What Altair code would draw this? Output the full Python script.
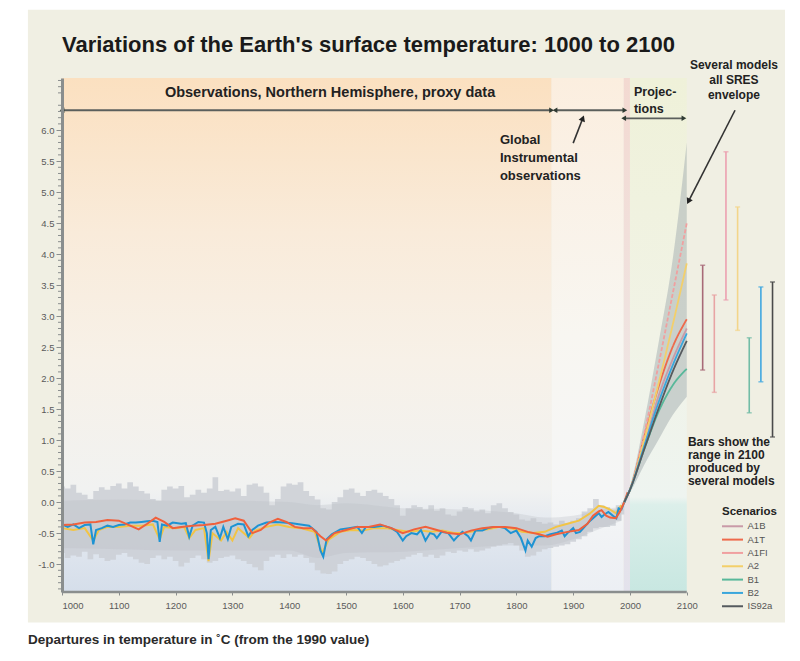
import altair as alt
import pandas as pd

# ---------------------------------------------------------------------------
# Scales: the horizontal range runs past 2100 so the 2100 range bars and the
# scenario key sit to the right of the axis end.
# ---------------------------------------------------------------------------
X_DOM = [1000, 2280]
Y_DOM = [-1.45, 6.84]
PLOT_W, PLOT_H = 727, 514
FONT = "Liberation Sans"

# ---------------------------------------------------------------------------
# Northern Hemisphere proxy reconstruction: uncertainty envelope (decadal)
# ---------------------------------------------------------------------------
env_years = list(range(1000, 1991, 10))
env_hi = [0.25, 0.22, 0.28, 0.15, 0.12, 0.05, 0.18, 0.24, 0.20, 0.26,
          0.30, 0.22, 0.32, 0.25, 0.18, 0.14, 0.05, 0.02, 0.20, 0.25,
          0.22, 0.26, 0.08, 0.12, 0.20, 0.15, 0.22, 0.40, 0.18, 0.20,
          0.17, 0.22, 0.10, 0.28, 0.30, 0.25, 0.15, -0.05, 0.05, 0.25,
          0.30, 0.28, 0.32, 0.18, 0.10, 0.04, -0.10, -0.12, 0.00, 0.08,
          0.20, 0.22, 0.15, 0.10, 0.18, 0.20, 0.15, 0.10, 0.05, -0.05,
          -0.22, -0.10, -0.05, -0.08, -0.12, -0.05, -0.14, -0.10, -0.20, -0.22,
          -0.15, -0.08, -0.10, -0.15, -0.12, -0.18, -0.05, -0.02, -0.10, -0.16,
          -0.20, -0.28, -0.30, -0.26, -0.32, -0.35, -0.33, -0.36, -0.30, -0.34,
          -0.30, -0.26, -0.15, -0.10, 0.05, -0.05, -0.08, -0.12, -0.05, 0.00]
env_lo = [-0.82, -0.90, -0.86, -0.88, -0.80, -0.92, -0.84, -0.90, -0.95, -0.93,
          -0.85, -0.82, -0.88, -0.92, -0.98, -1.00, -0.90, -0.86, -0.92, -0.88,
          -0.95, -1.04, -0.98, -0.90, -0.86, -0.92, -0.98, -0.95, -0.90, -0.88,
          -0.86, -0.92, -0.95, -1.00, -1.05, -1.10, -0.95, -0.88, -0.85, -0.90,
          -0.84, -0.88, -0.85, -0.90, -0.98, -1.10, -1.15, -1.16, -1.12, -1.00,
          -0.95, -0.92, -0.88, -0.90, -0.95, -1.00, -1.04, -1.02, -0.98, -0.95,
          -0.92, -0.88, -0.85, -0.82, -0.88, -0.85, -0.90, -0.86, -0.80, -0.82,
          -0.78, -0.80, -0.76, -0.80, -0.78, -0.75, -0.72, -0.70, -0.68, -0.66,
          -0.70, -0.78, -0.88, -0.86, -0.80, -0.76, -0.74, -0.72, -0.70, -0.68,
          -0.64, -0.60, -0.55, -0.48, -0.42, -0.40, -0.40, -0.38, -0.30, -0.20]

core_years = [1000, 1100, 1200, 1300, 1400, 1450, 1500, 1600, 1700, 1800, 1850, 1900, 1950, 1985]
core_hi = [0.02, 0.04, 0.02, 0.02, 0.00, -0.05, -0.02, -0.10, -0.12, -0.18, -0.25, -0.22, -0.12, -0.08]
core_lo = [-0.74, -0.76, -0.78, -0.78, -0.78, -0.90, -0.82, -0.80, -0.74, -0.70, -0.70, -0.60, -0.42, -0.30]

# ---------------------------------------------------------------------------
# Reconstructed / observed temperature series
# ---------------------------------------------------------------------------
blue_years = [1000, 1010, 1020, 1030, 1040, 1050, 1055, 1060, 1070, 1080, 1090,
              1100, 1110, 1120, 1130, 1140, 1150, 1160, 1168, 1172, 1176, 1185,
              1195, 1210, 1218, 1224, 1230, 1240, 1250, 1255, 1258, 1262, 1270,
              1278, 1284, 1292, 1298, 1310, 1320, 1328, 1335, 1345, 1360, 1375,
              1390, 1405, 1420, 1435, 1448, 1455, 1460, 1466, 1475, 1490, 1505,
              1520, 1528, 1535, 1550, 1565, 1580, 1590, 1600, 1606, 1615, 1625,
              1632, 1640, 1648, 1655, 1660, 1668, 1680, 1690, 1697, 1705, 1715,
              1720, 1728, 1740, 1750, 1760, 1770, 1780, 1790, 1800, 1808, 1816,
              1820, 1827, 1834, 1840, 1850, 1860, 1870, 1880, 1885, 1890, 1900,
              1905, 1912, 1920, 1930, 1940, 1945, 1950, 1955, 1962, 1970, 1976,
              1980, 1985, 1990, 1995, 2000]
blue_vals = [-0.36, -0.40, -0.36, -0.42, -0.37, -0.36, -0.68, -0.45, -0.42, -0.38, -0.40,
             -0.37, -0.36, -0.33, -0.33, -0.32, -0.31, -0.30, -0.32, -0.64, -0.36, -0.38,
             -0.33, -0.35, -0.34, -0.56, -0.38, -0.32, -0.33, -0.50, -0.92, -0.45, -0.40,
             -0.58, -0.40, -0.60, -0.40, -0.35, -0.36, -0.55, -0.45, -0.38, -0.33, -0.32,
             -0.33, -0.34, -0.36, -0.38, -0.48, -0.78, -0.88, -0.60, -0.52, -0.44, -0.42,
             -0.40, -0.50, -0.40, -0.40, -0.38, -0.42, -0.48, -0.62, -0.55, -0.50, -0.52,
             -0.45, -0.62, -0.50, -0.52, -0.58, -0.48, -0.50, -0.62, -0.55, -0.48, -0.55,
             -0.62, -0.46, -0.46, -0.42, -0.40, -0.40, -0.42, -0.50, -0.46, -0.58, -0.78,
             -0.62, -0.72, -0.58, -0.55, -0.55, -0.52, -0.50, -0.46, -0.55, -0.50, -0.42,
             -0.50, -0.48, -0.40, -0.30, -0.22, -0.18, -0.24, -0.20, -0.16, -0.22, -0.26,
             -0.10, -0.12, 0.00, 0.10, 0.20]

yellow_years = [1000, 1020, 1040, 1055, 1065, 1080, 1100, 1120, 1140, 1160, 1172,
                1180, 1200, 1215, 1224, 1235, 1250, 1258, 1265, 1280, 1290, 1300,
                1310, 1330, 1340, 1360, 1380, 1400, 1420, 1445, 1458, 1470, 1490,
                1510, 1530, 1550, 1570, 1590, 1610, 1630, 1650, 1670, 1690, 1710,
                1730, 1750, 1770, 1790, 1810, 1830, 1850, 1870, 1890, 1910, 1930,
                1945, 1955, 1965, 1975, 1985]
yellow_vals = [-0.42, -0.45, -0.42, -0.62, -0.45, -0.40, -0.40, -0.38, -0.38, -0.36, -0.60,
               -0.40, -0.42, -0.40, -0.58, -0.45, -0.42, -0.95, -0.50, -0.62, -0.48, -0.62,
               -0.42, -0.58, -0.46, -0.40, -0.36, -0.40, -0.42, -0.48, -0.82, -0.60, -0.48,
               -0.45, -0.46, -0.42, -0.42, -0.45, -0.48, -0.46, -0.48, -0.46, -0.50, -0.50,
               -0.46, -0.44, -0.40, -0.42, -0.48, -0.50, -0.48, -0.40, -0.35, -0.30, -0.18,
               -0.06, -0.08, -0.12, -0.18, -0.05]

red_years = [1000, 1020, 1040, 1060, 1080, 1100, 1120, 1135, 1150, 1165, 1180, 1195,
             1210, 1230, 1250, 1270, 1290, 1305, 1320, 1335, 1350, 1365, 1380, 1395,
             1410, 1425, 1440, 1455, 1465, 1480, 1500, 1520, 1540, 1560, 1580, 1600,
             1620, 1640, 1660, 1680, 1700, 1720, 1740, 1760, 1780, 1800, 1820, 1840,
             1855, 1870, 1890, 1910, 1925, 1935, 1945, 1950, 1958, 1965, 1975, 1982,
             1990, 1996]
red_vals = [-0.37, -0.36, -0.33, -0.32, -0.29, -0.30, -0.38, -0.44, -0.35, -0.25, -0.32, -0.42,
            -0.40, -0.38, -0.37, -0.35, -0.30, -0.26, -0.30, -0.50, -0.45, -0.33, -0.27, -0.32,
            -0.40, -0.42, -0.42, -0.55, -0.62, -0.50, -0.45, -0.40, -0.40, -0.36, -0.42, -0.50,
            -0.44, -0.40, -0.45, -0.50, -0.52, -0.46, -0.42, -0.40, -0.40, -0.42, -0.48, -0.52,
            -0.56, -0.52, -0.48, -0.45, -0.35, -0.22, -0.15, -0.13, -0.22, -0.25, -0.26, -0.16,
            0.00, 0.16]

# ---------------------------------------------------------------------------
# SRES projections, 1990-2100
# ---------------------------------------------------------------------------
proj_years = [1990, 2000, 2025, 2050, 2075, 2100]
scenarios = ["A1B", "A1T", "A1FI", "A2", "B1", "B2", "IS92a"]
proj_vals = {
    "A1B":   [0.0, 0.20, 0.90, 1.70, 2.30, 2.80],
    "A1T":   [0.0, 0.20, 1.05, 1.85, 2.50, 2.95],
    "A1FI":  [0.0, 0.20, 1.10, 2.20, 3.35, 4.50],
    "A2":    [0.0, 0.20, 1.00, 1.90, 2.85, 3.85],
    "B1":    [0.0, 0.20, 0.85, 1.45, 1.88, 2.15],
    "B2":    [0.0, 0.20, 0.90, 1.60, 2.20, 2.72],
    "IS92a": [0.0, 0.20, 0.85, 1.50, 2.10, 2.60],
}
sres_hi = [0.0, 0.25, 1.30, 2.55, 3.90, 5.80]
sres_lo = [0.0, 0.15, 0.60, 1.00, 1.40, 1.70]

# Range in 2100 produced by several models, per scenario
bar_lo = [2.13, 1.77, 3.26, 2.77, 1.44, 1.94, 1.05]
bar_hi = [3.82, 3.34, 5.65, 4.76, 2.65, 3.47, 3.55]

# Styling
line_colors = ["#c99aa8", "#ee6a4c", "#f0a0a0", "#f3cf6a", "#58b89a", "#3aa6dc", "#555a5e"]
bar_colors = ["#a86a78", "#e8a4a4", "#eba0b0", "#f3d58a", "#72bca6", "#42a8e0", "#4a4a4a"]
line_dash = [[1, 0], [1, 0], [4, 2], [1, 0], [1, 0], [1, 0], [1, 0]]
BAR_X0, BAR_STEP = 2128, 20.5
KEY_Y0, KEY_STEP = -0.39, 0.215

AXIS_GREY = "#8a8e8e"
X_AXIS = alt.Axis(values=list(range(1000, 2101, 100)), format="d", title=None,
                  domain=False, grid=False, tickSize=3, tickColor=AXIS_GREY,
                  labelFont=FONT, labelFontSize=9.5, labelColor="#5a5a5a",
                  labelPadding=5, zindex=1)
Y_AXIS = alt.Axis(values=[round(-1.0 + 0.5 * k, 1) for k in range(15)], format=".1f",
                  title=None, grid=False,
                  labelExpr="replace(datum.label, '\u2212', '-')",
                  domainColor=AXIS_GREY, domainWidth=3, tickColor=AXIS_GREY,
                  tickSize=6, labelFont=FONT, labelFontSize=9.5,
                  labelColor="#5a5a5a", labelPadding=2, zindex=1)


def X(field="x"):
    return alt.X(f"{field}:Q", scale=alt.Scale(domain=X_DOM, nice=False, zero=False), axis=X_AXIS)


def Y(field="y"):
    return alt.Y(f"{field}:Q", scale=alt.Scale(domain=Y_DOM, nice=False, zero=False), axis=Y_AXIS)


def vgrad(stops):
    return {"gradient": "linear", "x1": 0, "y1": 0, "x2": 0, "y2": 1,
            "stops": [{"offset": o, "color": c} for o, c in stops]}


def rect(x, x2, y, y2, fill):
    df = pd.DataFrame({"x": [x], "x2": [x2], "y": [y], "y2": [y2]})
    return alt.Chart(df).mark_rect(fill=fill, strokeWidth=0).encode(
        x=X(), x2="x2:Q", y=Y(), y2="y2:Q")


def texts(rows, size, bold=True, align="left", color="#222"):
    df = pd.DataFrame(rows, columns=["x", "y", "t"])
    return alt.Chart(df).mark_text(
        font=FONT, fontSize=size, fontWeight="bold" if bold else "normal",
        align=align, baseline="middle", color=color).encode(x=X(), y=Y(), text="t:N")


# --- backgrounds -----------------------------------------------------------
panel = rect(940, 2273, 7.94, -1.94, "#f0efe3")
bg_proxy = rect(1000, 1862, Y_DOM[1], Y_DOM[0], vgrad([
    (0, "#fbe0c0"), (0.3, "#f9ebda"), (0.55, "#f7f1e8"), (0.8, "#f1f2f1"),
    (0.87, "#e4e9f0"), (1, "#d5deea")]))
bg_instr = rect(1862, 1989, Y_DOM[1], Y_DOM[0], vgrad([
    (0, "#fbeedf"), (0.5, "#f8f6f1"), (0.8, "#f5f6f6"), (1, "#eceff4")]))
bg_pink = rect(1989, 2000, Y_DOM[1], Y_DOM[0], vgrad([
    (0, "#f3d9d1"), (0.6, "#efe5e3"), (1, "#e3e2ec")]))
bg_proj = rect(2000, 2100, Y_DOM[1], Y_DOM[0], vgrad([
    (0, "#eff1d9"), (0.5, "#f1f3e6"), (0.815, "#eef4f0"), (0.83, "#dcefea"),
    (1, "#c8e7e1")]))

# --- proxy envelope --------------------------------------------------------
env_df = pd.DataFrame({"x": env_years, "hi": env_hi, "lo": env_lo})
env = alt.Chart(env_df).mark_area(color="#cbcfd5", opacity=0.85, interpolate="step").encode(
    x=X(), y=Y("hi"), y2="lo:Q")
core_df = pd.DataFrame({"x": core_years, "hi": core_hi, "lo": core_lo})
core = alt.Chart(core_df).mark_area(color="#b9bec5", opacity=0.3, interpolate="monotone").encode(
    x=X(), y=Y("hi"), y2="lo:Q")


def series(years, vals, color, width):
    df = pd.DataFrame({"x": years, "y": vals})
    return alt.Chart(df).mark_line(color=color, strokeWidth=width, interpolate="linear").encode(
        x=X(), y=Y())


yellow = series(yellow_years, yellow_vals, "#f2c445", 2)
blue = series(blue_years, blue_vals, "#1e93d3", 2)
red = series(red_years, red_vals, "#f0603c", 2)

# --- projections -----------------------------------------------------------
sres_df = pd.DataFrame({"x": proj_years, "hi": sres_hi, "lo": sres_lo})
sres = alt.Chart(sres_df).mark_area(color="#aab3b5", opacity=0.55, interpolate="monotone").encode(
    x=X(), y=Y("hi"), y2="lo:Q")

proj_layers = []
for i, s in enumerate(scenarios):
    df = pd.DataFrame({"x": proj_years, "y": proj_vals[s]})
    proj_layers.append(alt.Chart(df).mark_line(
        color=line_colors[i], strokeWidth=1.8, strokeDash=line_dash[i],
        interpolate="monotone").encode(x=X(), y=Y()))

# --- 2100 range bars -------------------------------------------------------
bars_df = pd.DataFrame({"s": scenarios, "i": range(len(scenarios)),
                        "lo": bar_lo, "hi": bar_hi, "c": bar_colors})
bars_base = alt.Chart(bars_df).transform_calculate(
    bx=f"{BAR_X0} + datum.i * {BAR_STEP}")
bar_color = alt.Color("c:N", scale=None)
bars = bars_base.mark_rule(strokeWidth=1.6).encode(
    x=X("bx"), y=Y("lo"), y2="hi:Q", color=bar_color)
cap_lo = bars_base.mark_tick(orient="horizontal", size=5, thickness=1.5).encode(
    x=X("bx"), y=Y("lo"), color=bar_color)
cap_hi = bars_base.mark_tick(orient="horizontal", size=5, thickness=1.5).encode(
    x=X("bx"), y=Y("hi"), color=bar_color)

# --- scenario key ----------------------------------------------------------
key_df = pd.DataFrame({"s": scenarios, "i": range(len(scenarios)), "c": line_colors})
key_base = alt.Chart(key_df).transform_calculate(
    ky=f"{KEY_Y0} - datum.i * {KEY_STEP}", kx="2162", kx2="2199", tx="2207")
key_lines = key_base.mark_rule(strokeWidth=2).encode(
    x=X("kx"), x2="kx2:Q", y=Y("ky"), color=alt.Color("c:N", scale=None))
key_text = key_base.mark_text(font=FONT, fontSize=9.5, align="left", baseline="middle",
                              color="#555").encode(x=X("tx"), y=Y("ky"), text="s:N")

# --- annotations -----------------------------------------------------------
ARROW = "#5b5f5c"
hspans = pd.DataFrame({"x": [1000, 1868, 1989], "x2": [1862, 1991, 2095],
                       "y": [6.32, 6.32, 6.19]})
h_rules = alt.Chart(hspans).mark_rule(color=ARROW, strokeWidth=1.8).encode(
    x=X(), x2="x2:Q", y=Y())
heads_l = alt.Chart(hspans).mark_point(shape="triangle-left", filled=True, size=30,
                                       color="#2f3a33", opacity=1).encode(x=X(), y=Y())
heads_r = alt.Chart(hspans).mark_point(shape="triangle-right", filled=True, size=30,
                                       color="#2f3a33", opacity=1).encode(x=X("x2"), y=Y())

pointers = pd.DataFrame({"x": [1900, 2185], "y": [5.79, 6.32],
                         "hx": [1917, 2103], "hy": [6.19, 4.85], "a": [21, 207]})
p_rules = alt.Chart(pointers).mark_rule(color="#333", strokeWidth=1.6).encode(
    x=X(), y=Y(), x2="hx:Q", y2="hy:Q")
p_heads = alt.Chart(pointers).mark_point(shape="triangle-up", filled=True, size=45,
                                         color="#222", opacity=1).encode(
    x=X("hx"), y=Y("hy"), angle=alt.Angle("a:Q", scale=None))

labels_main = texts([(1472, 6.6, "Observations, Northern Hemisphere, proxy data")], 14.5, align="center")
labels_instr = texts([(1771, 5.84, "Global"), (1771, 5.55, "Instrumental"),
                      (1771, 5.26, "observations")], 13)
labels_proj = texts([(2007, 6.61, "Projec-"), (2007, 6.34, "tions")], 12.5)
labels_env = texts([(2183, 7.05, "Several models"), (2183, 6.81, "all SRES"),
                    (2183, 6.56, "envelope")], 12, align="center")
labels_bars = texts([(2102, 0.97, "Bars show the"), (2102, 0.76, "range in 2100"),
                     (2102, 0.55, "produced by"), (2102, 0.34, "several models")], 12)
labels_key = texts([(2162, -0.16, "Scenarios")], 11.5)
title = texts([(1000, 7.37, "Variations of the Earth's surface temperature: 1000 to 2100")],
              22, color="#1a1a1a")
footer = texts([(940, -2.23, "Departures in temperature in ˚C (from the 1990 value)")],
               13.5, color="#2a2a2a")

# --- axis line and minor ticks --------------------------------------------
x_line = alt.Chart(pd.DataFrame({"x": [1000], "x2": [2100], "y": [Y_DOM[0]]})).mark_rule(
    color=AXIS_GREY, strokeWidth=2.5).encode(x=X(), x2="x2:Q", y=Y())

minor_vals = [round(-1.4 + 0.1 * k, 1) for k in range(83)]
minor_vals = [v for v in minor_vals if abs(v * 2 - round(v * 2)) > 1e-6]
minor = alt.Chart(pd.DataFrame({"y": minor_vals})).mark_rule(color=AXIS_GREY, strokeWidth=1).encode(
    x=alt.value(-4), x2=alt.value(-1), y=Y())

chart = alt.layer(
    panel, bg_proxy, bg_instr, bg_pink, bg_proj,
    env, core, yellow, blue, red,
    sres, *proj_layers,
    x_line, minor,
    bars, cap_lo, cap_hi,
    h_rules, heads_l, heads_r, p_rules, p_heads,
    labels_main, labels_instr, labels_proj, labels_env, labels_bars, labels_key,
    key_lines, key_text, title, footer,
).properties(
    width=PLOT_W, height=PLOT_H,
    padding={"left": 62, "top": 78, "right": 11, "bottom": 69},
    autosize="none",
    background="white",
).configure_view(stroke=None)

chart.save("out.html", embed_options={"renderer": "svg", "actions": False})
